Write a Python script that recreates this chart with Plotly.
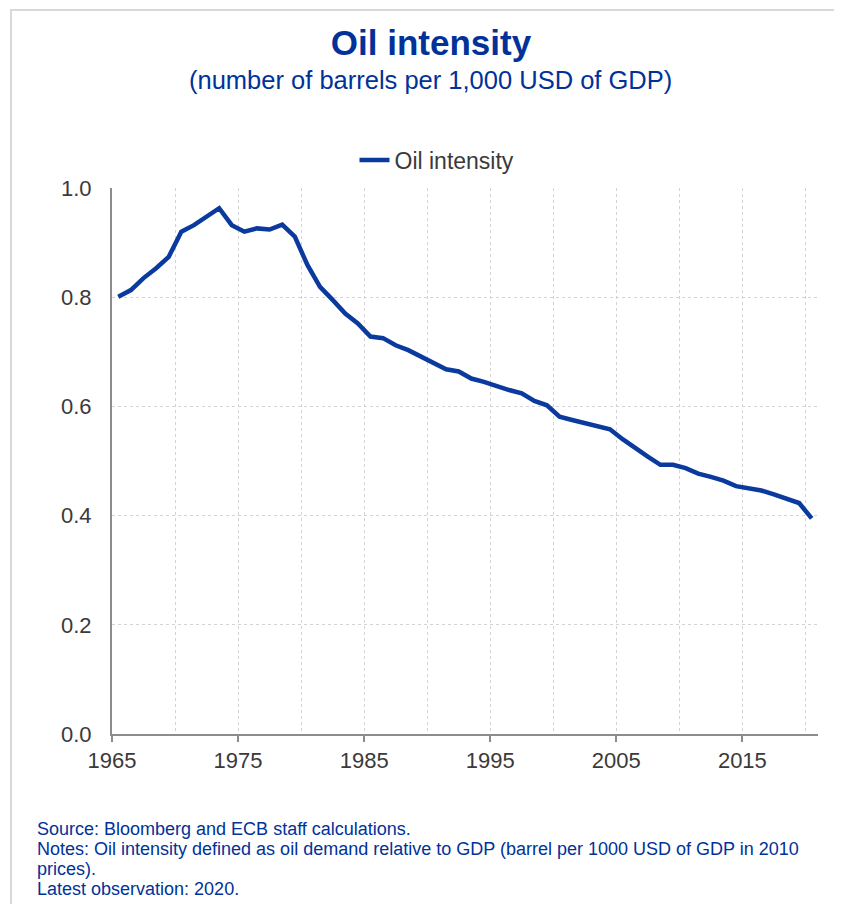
import plotly.graph_objects as go

# ---- data -------------------------------------------------------------
years = list(range(1965, 2021))
oil_intensity = [
    0.801, 0.813, 0.835, 0.853, 0.874, 0.920, 0.932, 0.947, 0.963, 0.932,
    0.920, 0.926, 0.924, 0.933, 0.911, 0.859, 0.819, 0.795, 0.770, 0.752,
    0.728, 0.725, 0.712, 0.703, 0.691, 0.679, 0.668, 0.664, 0.651, 0.645,
    0.637, 0.630, 0.624, 0.610, 0.602, 0.581, 0.575, 0.569, 0.564, 0.558,
    0.540, 0.523, 0.508, 0.493, 0.493, 0.487, 0.477, 0.471, 0.464, 0.454,
    0.450, 0.446, 0.439, 0.432, 0.423, 0.395,
]
series_name = "Oil intensity"
x_tick_labels = ["1965", "1975", "1985", "1995", "2005", "2015"]
y_ticks = [0.0, 0.2, 0.4, 0.6, 0.8, 1.0]

title_text = "Oil intensity"
subtitle_text = "(number of barrels per 1,000 USD of GDP)"
notes = [
    "Source: Bloomberg and ECB staff calculations.",
    "Notes: Oil intensity defined as oil demand relative to GDP (barrel per 1000 USD of GDP in 2010",
    "prices).",
    "Latest observation: 2020.",
]

# ---- style ------------------------------------------------------------
OFF = 8  # page body margin: figure starts 8px in from the window edge
W, H = 842 - OFF, 912 - 2 * OFF  # keep page within the window (no scrollbars)
L, T = 112 - OFF, 188 - OFF
R = W - (818 - OFF)
B = H - (734 - OFF)
PW, PH = W - L - R, H - T - B
ECB_BLUE = "#003299"
LINE_BLUE = "#0a3a9e"
GRID = "#d3d3d3"
AXIS = "#8c8c8c"
TXT = "#3a3a3a"
FONT = "Liberation Sans, Arial, sans-serif"


def px_x(px):  # reference-window pixel -> paper coordinate
    return (px - OFF - L) / PW


def px_y(py):
    return (H - B - (py - OFF)) / PH


fig = go.Figure()
fig.add_trace(go.Scatter(
    x=[y + 0.5 for y in years],  # annual observations plotted mid-year
    y=oil_intensity,
    mode="lines",
    name=series_name,
    line=dict(color=LINE_BLUE, width=4.5),
))

fig.update_layout(
    width=W, height=H,
    margin=dict(l=L, r=R, t=T, b=B),
    paper_bgcolor="white", plot_bgcolor="white",
    font=dict(family=FONT, color=TXT),
    showlegend=True,
    legend=dict(
        orientation="h", x=px_x(437), xanchor="center",
        y=px_y(160), yanchor="middle",
        font=dict(size=23, color=TXT, family=FONT),
        bgcolor="rgba(0,0,0,0)",
    ),
    title=dict(
        text=f"<b>{title_text}</b>", xref="paper", x=px_x(431), xanchor="center",
        yref="container", y=1 - (43 - OFF) / H, yanchor="middle",
        font=dict(size=35, color=ECB_BLUE, family=FONT),
    ),
)

fig.update_xaxes(
    range=[1965, 2021],
    tickmode="array",
    tickvals=[int(t) for t in x_tick_labels],
    ticktext=x_tick_labels,
    ticks="outside", ticklen=6, tickwidth=2, tickcolor=AXIS,
    tickfont=dict(size=22, color=TXT),
    showline=True, linecolor=AXIS, linewidth=2,
    showgrid=True, gridcolor=GRID, griddash="dot", gridwidth=1,
    minor=dict(tick0=1965, dtick=5, showgrid=True, gridcolor=GRID,
               griddash="dot", gridwidth=1, ticklen=0),
    zeroline=False,
)
fig.update_yaxes(
    range=[0, 1.0],
    tickmode="array", tickvals=y_ticks,
    tickformat=".1f",
    ticks="", ticklabelstandoff=14,
    tickfont=dict(size=22, color=TXT),
    showline=True, linecolor=AXIS, linewidth=2,
    showgrid=True, gridcolor=GRID, griddash="dot", gridwidth=1,
    zeroline=False,
)

annotations = [
    dict(text=subtitle_text, xref="paper", yref="paper",
         x=px_x(430), y=px_y(80), xanchor="center", yanchor="middle",
         showarrow=False, font=dict(size=25.5, color=ECB_BLUE, family=FONT)),
]
for i, line in enumerate(notes):
    annotations.append(dict(
        text=line, xref="paper", yref="paper",
        x=px_x(35), y=px_y(829 + 20 * i), xanchor="left", yanchor="middle",
        showarrow=False, font=dict(size=18, color=ECB_BLUE, family=FONT),
    ))
fig.update_layout(annotations=annotations)

# light frame around the chart (top and left edges)
fig.add_shape(type="line", xref="paper", yref="paper",
              x0=px_x(10), x1=px_x(842), y0=px_y(10), y1=px_y(10),
              line=dict(color="#d9d9d9", width=2), layer="below")
fig.add_shape(type="line", xref="paper", yref="paper",
              x0=px_x(11), x1=px_x(11), y0=px_y(10), y1=px_y(912),
              line=dict(color="#d9d9d9", width=2), layer="below")

fig.write_html("out.html")
